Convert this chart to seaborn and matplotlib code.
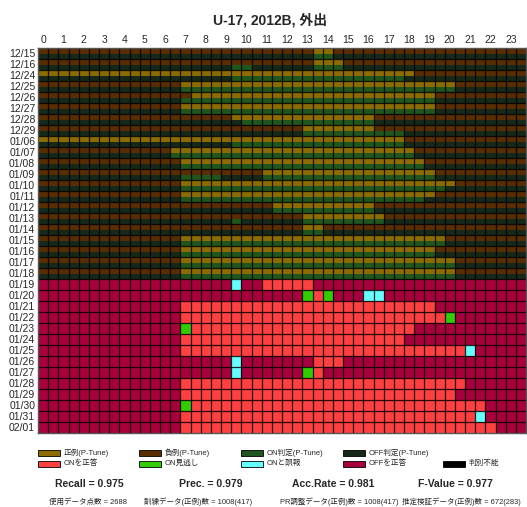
import numpy as np
import matplotlib
matplotlib.use("Agg")
import matplotlib.pyplot as plt
import seaborn as sns
from matplotlib.colors import ListedColormap
from matplotlib.patches import Rectangle

sns.set_theme(style="white")
plt.rcParams['font.family'] = ['Liberation Sans', 'Noto Sans CJK JP', 'DejaVu Sans']

title = "U-17, 2012B, 外出"
hours = [str(h) for h in range(24)]

train_dates = ["12/15", "12/16", "12/24", "12/25", "12/26", "12/27", "12/28", "12/29",
               "01/06", "01/07", "01/08", "01/09", "01/10", "01/11", "01/12", "01/13",
               "01/14", "01/15", "01/16", "01/17", "01/18"]
test_dates = ["01/19", "01/20", "01/21", "01/22", "01/23", "01/24", "01/25", "01/26",
              "01/27", "01/28", "01/29", "01/30", "01/31", "02/01"]

# P = 正例, N = 負例 (one char per half hour, groups of 6 hours)
train_label = [
    "NNNNNNNNNNNN NNNNNNNNNNNN NNNPPNNNNNNN NNNNNNNNNNNN",
    "NNNNNNNNNNNN NNNNNNNNNNNN NNNPPPNNNNNN NNNNNNNNNNNN",
    "PPPPPPPPPPPP PPPPPPPPPPPP PPPPPPPPPPPP PNNNNNNNNNNN",
    "NNNNNNNNNNNN NNPPPPPPPPPP PPPPPPPPPPPP PPPPPNNNNNNN",
    "NNNNNNNNNNNN NNNPPPPPPPPP PPPPPPPPPPPP PPPNNNNNNNNN",
    "NNNNNNNNNNNN NNPPPPPPPPPP PPPPPPPPPPPP PPPNNNNNNNNN",
    "NNNNNNNNNNNN NNNNNNNPPPPP PPPPPPPPPNNN NNNNNNNNNNNN",
    "NNNNNNNNNNNN NNNNNNNNNNNN NNPPPPPPPNNN NNNNNNNNNNNN",
    "PPPPPPPPPPPP PPPPPPPPPPPP PPPPPPPPPPPP NNNNNNNNNNNN",
    "NNNNNNNNNNNN NPPPPPPPPPPP PPPPPPPPPPPP PNNNNNNNNNNN",
    "NNNNNNNNNNNN NNPPPPPPPPPP PPPPPPPPPPPP PPNNNNNNNNNN",
    "NNNNNNNNNNNN NNNNNNNNNNPP PPPPPPPPPPPP PPPNNNNNNNNN",
    "NNNNNNNNNNNN NNPPPPPPPPPP PPPPPPPPPPPP PPPPPNNNNNNN",
    "NNNNNNNNNNNN NNPPPPPPPPPP PPPPPPPPPPPP PPPNNNNNNNNN",
    "NNNNNNNNNNNN NNNNNNNNNNNP PPPPPPPPPNNN NNNNNNNNNNNN",
    "NNNNNNNNNNNN NNNNNNNNNNNN NNPPPPPPPPNN NNNNNNNNNNNN",
    "NNNNNNNNNNNN NNNNNNNNNNNN NNPPNNNNNNNN NNNNNNNNNNNN",
    "NNNNNNNNNNNN NNPPPPPPPPPP PPPPPPPPPPPP PPPPNNNNNNNN",
    "NNNNNNNNNNNN NNPPPPPPPPPP PPPPPPPPPPPP PPPNNNNNNNNN",
    "NNNNNNNNNNNN NNPPPPPPPPPP PPPPPPPPPPPP PPPPPNNNNNNN",
    "NNNNNNNNNNNN NNPPPPPPPPPP PPPPPPPPPPPP PPPPPNNNNNNN",
]
# O = ON判定, F = OFF判定
train_judge = [
    "FFFFFFFFFFFF FFFFFFFFFFFF FFFOOFFFFFFF FFFFFFFFFFFF",
    "FFFFFFFFFFFF FFFFFFFOOFFF FFFOOOFFFFFF FFFFFFFFFFFF",
    "FFFFFFFFFFFF FFFFFFFOOOOO OOOOOOOOOOOO FFFFFFFFFFFF",
    "FFFFFFFFFFFF FFOOOOOOOOOO OOOOOOOOOOOO OOOOOFFFFFFF",
    "FFFFFFFFFFFF FFOOOOOOOOOO OOOOOOOOOOOO OOOFFFFFFFFF",
    "FFFFFFFFFFFF FFOOOOOOOOOO OOOOOOOOOOOO OOOFFFFFFFFF",
    "FFFFFFFFFFFF FFFFFFFFOOOO OOOOOOOOOFFF FFFFFFFFFFFF",
    "FFFFFFFFFFFF FFFFFFFFFFFF FFOOOOOOOOOO FFFFFFFFFFFF",
    "FFFFFFFFFFFF FFFFFFFOOOOO OOOOOOOOOOOO FFFFFFFFFFFF",
    "FFFFFFFFFFFF FOOOOOOOOOOO OOOOOOOOOOOO OFFFFFFFFFFF",
    "FFFFFFFFFFFF FFOOOOOOOOOO OOOOOOOOOOOO OOFFFFFFFFFF",
    "FFFFFFFFFFFF FFOOOOFFFFOO OOOOOOOOOOOO OOOFFFFFFFFF",
    "FFFFFFFFFFFF FFOOOOOOOOOO OOOOOOOOOOOO OOOOFFFFFFFF",
    "FFFFFFFFFFFF FFOOOOOOOOOO OOOOOOOOOOOO OOFFFFFFFFFF",
    "FFFFFFFFFFFF FFFFFFFFFFFO OOOOOOOOOFFF FFFFFFFFFFFF",
    "FFFFFFFFFFFF FFFFFFFOFFFF FFOOOOOOOOFF FFFFFFFFFFFF",
    "FFFFFFFFFFFF FFFFFFFFFFFF FFOOFFFFFFFF FFFFFFFFFFFF",
    "FFFFFFFFFFFF FFOOOOOOOOOO OOOOOOOOOOOO OOOOFFFFFFFF",
    "FFFFFFFFFFFF FFOOOOOOOOOO OOOOOOOOOOOO OOOFFFFFFFFF",
    "FFFFFFFFFFFF FFOOOOOOOOOO OOOOOOOOOOOO OOOOOFFFFFFF",
    "FFFFFFFFFFFF FFOOOOOOOOOO OOOOOOOOOOOO OOOOOFFFFFFF",
]
# R = ONを正答, G = ON見逃し, C = ONと誤報, M = OFFを正答
test_result = [
    "MMMMMMMMMMMM MMMMMMMCMMRR RRRMMMMMMMMM MMMMMMMMMMMM",
    "MMMMMMMMMMMM MMMMMMMMMMMM MMGRGMMMCCMM MMMMMMMMMMMM",
    "MMMMMMMMMMMM MMRRRRRRRRRR RRRRRRRRRRRR RRRMMMMMMMMM",
    "MMMMMMMMMMMM MMRRRRRRRRRR RRRRRRRRRRRR RRRRGMMMMMMM",
    "MMMMMMMMMMMM MMGRRRRRRRRR RRRRRRRRRRRR RMMMMMMMMMMM",
    "MMMMMMMMMMMM MMRRRRRRRRRR RRRRRRRRRRRR MMMMMMMMMMMM",
    "MMMMMMMMMMMM MMRRRRRRRRRR RRRRRRRRRRRR RRRRRRCMMMMM",
    "MMMMMMMMMMMM MMMMMMMCMMMM MMMRRRMMMMMM MMMMMMMMMMMM",
    "MMMMMMMMMMMM MMMMMMMCMMMM MMGRMMMMMMMM MMMMMMMMMMMM",
    "MMMMMMMMMMMM MMRRRRRRRRRR RRRRRRRRRRRR RRRRRRMMMMMM",
    "MMMMMMMMMMMM MMRRRRRRRRRR RRRRRRRRRRRR RRRRRMMMMMMM",
    "MMMMMMMMMMMM MMGRRRRRRRRR RRRRRRRRRRRR RRRRRRRRMMMM",
    "MMMMMMMMMMMM MMRRRRRRRRRR RRRRRRRRRRRR RRRRRRRCMMMM",
    "MMMMMMMMMMMM MMRRRRRRRRRR RRRRRRRRRRRR RRRRRRRRRMMM",
]

categories = ["正例(P-Tune)", "負例(P-Tune)", "ON判定(P-Tune)", "OFF判定(P-Tune)",
              "ONを正答", "ON見逃し", "ONと誤報", "OFFを正答", "判別不能"]
codes = ["P", "N", "O", "F", "R", "G", "C", "M", "X"]
colors = ["#8C6C00", "#5A2D00", "#1E561E", "#15281A",
          "#FF4040", "#33CC00", "#66FFFF", "#A8003C", "#000000"]

metric_names = ["Recall", "Prec.", "Acc.Rate", "F-Value"]
metric_values = [0.975, 0.979, 0.981, 0.977]
count_texts = ["使用データ点数 = 2688", "訓練データ(正例)数 = 1008(417)",
               "PR調整データ(正例)数 = 1008(417)", "推定検証データ(正例)数 = 672(283)"]

# ---- build matrix (two sub-rows per day) ----
cmap_idx = {c: i for i, c in enumerate(codes)}
rows = []
for lab, jud in zip(train_label, train_judge):
    lab = lab.replace(" ", ""); jud = jud.replace(" ", "")
    assert len(lab) == 48 and len(jud) == 48
    rows.append([cmap_idx[c] for c in lab])
    rows.append([cmap_idx[c] for c in jud])
for res in test_result:
    res = res.replace(" ", "")
    assert len(res) == 48
    r = [cmap_idx[c] for c in res]
    rows.append(r)
    rows.append(r)
mat = np.array(rows)
dates = train_dates + test_dates
n_days = len(dates)

W, H = 527, 507
fig = plt.figure(figsize=(W / 100, H / 100), dpi=100)
ax = fig.add_axes([38 / W, 1 - 433 / H, 488 / W, 385 / H])
sns.heatmap(mat, cmap=ListedColormap(colors), vmin=-0.5, vmax=len(colors) - 0.5,
            cbar=False, ax=ax, xticklabels=False, yticklabels=False)

ax.vlines(np.arange(1, 48), 0, 2 * n_days, colors="black", linewidth=0.9, alpha=0.85)
ax.hlines(np.arange(2, 2 * n_days, 2), 0, 48, colors="black", linewidth=0.9, alpha=0.85)

ax.set_xticks(np.arange(0, 48, 2) + 0.5)
ax.set_xticklabels(hours, fontsize=7.5)
ax.xaxis.tick_top()
ax.set_yticks(np.arange(n_days) * 2 + 0.85)
ax.set_yticklabels(dates, fontsize=7.5, rotation=0)
ax.tick_params(length=0, pad=2)
for side, sp in ax.spines.items():
    sp.set_visible(True)
    sp.set_color("#555555")
    sp.set_linewidth(1.0)

fig.text(270 / W, 1 - 20 / H, title, ha="center", va="center",
         fontsize=10, fontweight="bold")

# ---- legend ----
col_x = [38, 139, 241, 343, 443]
row_y = [453, 463.5]
layout = [(0, 0, 0), (1, 0, 1), (2, 0, 2), (3, 0, 3),
          (4, 1, 0), (5, 1, 1), (6, 1, 2), (7, 1, 3), (8, 1, 4)]
for idx, r, c in layout:
    x0 = col_x[c]
    yc = row_y[r]
    fig.add_artist(Rectangle((x0 / W, 1 - (yc + 3) / H), 22 / W, 6 / H,
                             transform=fig.transFigure, facecolor=colors[idx],
                             edgecolor="black", linewidth=0.6))
    fig.text((x0 + 26) / W, 1 - yc / H, categories[idx], ha="left", va="center",
             fontsize=5.5)

metric_x = [89.5, 211, 333.5, 455]
for name, val, mx in zip(metric_names, metric_values, metric_x):
    fig.text(mx / W, 1 - 484 / H, f"{name} = {val:.3f}", ha="center", va="center",
             fontsize=7.5, fontweight="bold")

count_x = [49, 144, 280, 402]
for t, cx in zip(count_texts, count_x):
    fig.text(cx / W, 1 - 502 / H, t, ha="left", va="center", fontsize=5.4)

fig.savefig("out.png", dpi=100)
